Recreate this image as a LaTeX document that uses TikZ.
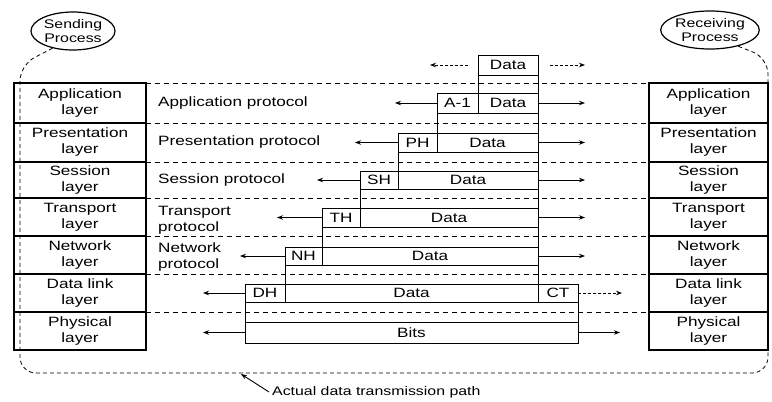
\documentclass[tikz,border=0pt]{standalone}
\usepackage{fontspec}
\setmainfont{Liberation Sans}[FakeStretch=1.27]
\usetikzlibrary{arrows.meta,shapes.geometric}
\newcommand\pdubox[6]{\node[pdu, minimum width={(#4-#2)*1pt}, minimum height={(#5-#3)*1pt}] (#1) at (#2,#3) {#6};}
\begin{document}
\begin{tikzpicture}[x=1pt,y=-1pt,
  every node/.style={font=\fontsize{13.5}{16}\selectfont},
  layerbox/.style={draw, line width=1.1pt, inner sep=0pt, outer sep=0pt, anchor=north west, align=center},
  pdu/.style={draw, line width=1pt, inner sep=0pt, outer sep=0pt, anchor=north west},
  proto/.style={anchor=west, align=left, inner sep=0pt},
  rowline/.style={line width=0.8pt, dash pattern=on 5pt off 4pt},
  parrow/.style={line width=0.9pt, -{Stealth[length=6pt,width=4.5pt]}},
  dparrow/.style={parrow, dash pattern=on 3pt off 2pt},
  tpath/.style={line width=0.8pt, dash pattern=on 4pt off 3pt},
  proc/.style={draw, ellipse, line width=1.2pt, minimum width=84pt, minimum height=38pt, align=center, inner sep=0pt, font=\fontsize{12.5}{14}\selectfont}
]
\useasboundingbox (0,0) rectangle (772,402);

% processes
\node[proc] (sp) at (73,31) {Sending\\Process};
\node[proc] (rp) at (710,30) {Receiving\\Process};

% left stack
\node[layerbox, minimum width=132pt, minimum height=40pt] (lapp) at (14,83) {Application\\layer};
\node[layerbox, minimum width=132pt, minimum height=39pt] (lpre) at (14,123) {Presentation\\layer};
\node[layerbox, minimum width=132pt, minimum height=36pt] (lses) at (14,162) {Session\\layer};
\node[layerbox, minimum width=132pt, minimum height=38pt] (ltra) at (14,198) {Transport\\layer};
\node[layerbox, minimum width=132pt, minimum height=38pt] (lnet) at (14,236) {Network\\layer};
\node[layerbox, minimum width=132pt, minimum height=38pt] (llnk) at (14,274) {Data link\\layer};
\node[layerbox, minimum width=132pt, minimum height=38pt] (lphy) at (14,312) {Physical\\layer};

% right stack
\node[layerbox, minimum width=119pt, minimum height=40pt] (rapp) at (649,83) {Application\\layer};
\node[layerbox, minimum width=119pt, minimum height=39pt] (rpre) at (649,123) {Presentation\\layer};
\node[layerbox, minimum width=119pt, minimum height=36pt] (rses) at (649,162) {Session\\layer};
\node[layerbox, minimum width=119pt, minimum height=38pt] (rtra) at (649,198) {Transport\\layer};
\node[layerbox, minimum width=119pt, minimum height=38pt] (rnet) at (649,236) {Network\\layer};
\node[layerbox, minimum width=119pt, minimum height=38pt] (rlnk) at (649,274) {Data link\\layer};
\node[layerbox, minimum width=119pt, minimum height=38pt] (rphy) at (649,312) {Physical\\layer};

% layer boundary lines
\draw[rowline] (lapp.north east) -- (rapp.north west);
\draw[rowline] (lapp.south east) -- (rapp.south west);
\draw[rowline] (lpre.south east) -- (rpre.south west);
\draw[rowline] (lses.south east) -- (rses.south west);
\draw[rowline] (ltra.south east) -- (rtra.south west);
\draw[rowline] (lnet.south east) -- (rnet.south west);
\draw[rowline] (llnk.south east) -- (rlnk.south west);

% protocol labels
\node[proto] (papp) at (158,103) {Application protocol};
\node[proto] (ppre) at (158,142) {Presentation protocol};
\node[proto] (pses) at (158,180) {Session protocol};
\node[proto] (ptra) at (158,220) {Transport\\protocol};
\node[proto] (pnet) at (158,257) {Network\\protocol};

% PDU stack
\pdubox{d0}{478}{55}{538}{75}{Data}
\pdubox{e1}{478}{75}{538}{93}{}
\pdubox{h1}{437}{93}{478}{113}{A-1}
\pdubox{d1}{478}{93}{538}{113}{Data}
\pdubox{e2}{437}{113}{538}{133}{}
\pdubox{h2}{398}{133}{437}{152}{PH}
\pdubox{d2}{437}{133}{538}{152}{Data}
\pdubox{e3}{398}{152}{538}{171}{}
\pdubox{h3}{360}{171}{398}{189}{SH}
\pdubox{d3}{398}{171}{538}{189}{Data}
\pdubox{e4}{360}{189}{538}{208}{}
\pdubox{h4}{322}{208}{360}{227}{TH}
\pdubox{d4}{360}{208}{538}{227}{Data}
\pdubox{e5}{322}{227}{538}{247}{}
\pdubox{h5}{285}{247}{322}{265}{NH}
\pdubox{d5}{322}{247}{538}{265}{Data}
\pdubox{e6}{285}{265}{538}{284}{}
\pdubox{h6}{245}{284}{285}{302}{DH}
\pdubox{d6}{285}{284}{538}{302}{Data}
\pdubox{t6}{538}{284}{578}{302}{CT}
\pdubox{e7}{245}{302}{578}{322}{}
\pdubox{b7}{245}{322}{578}{343}{Bits}

% arrow end coordinates
\coordinate (rx) at (585,0);
\coordinate (tl0) at (468,65);
\coordinate (tl1) at (430,65);
\coordinate (tr0) at (550,65);
\coordinate (tr1) at (585,65);
\coordinate (lx1) at (395,0);
\coordinate (lx2) at (355,0);
\coordinate (lx3) at (317,0);
\coordinate (lx4) at (277,0);
\coordinate (lx5) at (240,0);
\coordinate (lx6) at (203,0);
\coordinate (rx6) at (622,0);
\coordinate (rx7) at (620,0);

\draw[dparrow] (tl0) -- (tl1);
\draw[dparrow] (tr0) -- (tr1);
\draw[parrow] (h1.west) -- (h1.west -| lx1);
\draw[parrow] (d1.east) -- (d1.east -| rx);
\draw[parrow] (h2.west) -- (h2.west -| lx2);
\draw[parrow] (d2.east) -- (d2.east -| rx);
\draw[parrow] (h3.west) -- (h3.west -| lx3);
\draw[parrow] (d3.east) -- (d3.east -| rx);
\draw[parrow] (h4.west) -- (h4.west -| lx4);
\draw[parrow] (d4.east) -- (d4.east -| rx);
\draw[parrow] (h5.west) -- (h5.west -| lx5);
\draw[parrow] (d5.east) -- (d5.east -| rx);
\draw[parrow] (h6.west) -- (h6.west -| lx6);
\draw[dparrow] (t6.east) -- (t6.east -| rx6);
\draw[parrow] (b7.west) -- (b7.west -| lx6);
\draw[parrow] (b7.east) -- (b7.east -| rx7);

% actual transmission path
\coordinate (tp1) at (20,65);
\coordinate (tp2) at (20,373);
\coordinate (tp3) at (768,373);
\coordinate (tp4) at (768,58);
\draw[tpath, rounded corners=16pt] (sp.220) -- (tp1) -- (tp2) -- (tp3) -- (tp4) -- (rp.330);

\coordinate (pt) at (241,374);
\node[anchor=west, inner sep=0pt, font=\fontsize{12.5}{15}\selectfont] (cap) at (272,392) {Actual data transmission path};
\draw[parrow] ([xshift=-3pt]cap.west) -- (pt);
\end{tikzpicture}
\end{document}
